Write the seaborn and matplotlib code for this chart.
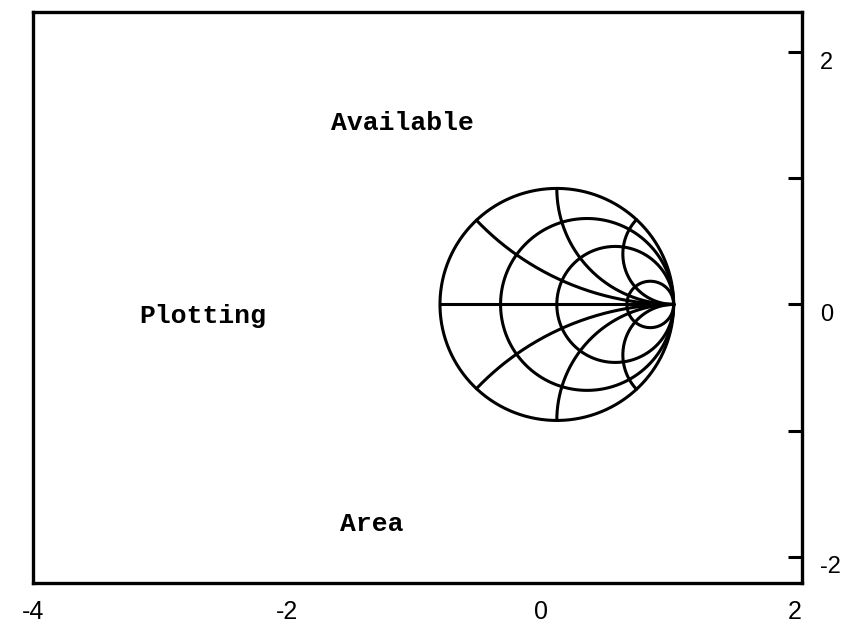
import numpy as np
import pandas as pd
import seaborn as sns
import matplotlib.pyplot as plt
import matplotlib.transforms as mtransforms

sns.set_style("white")

# smith chart values
r_vals = [0.0, 0.35, 1.0, 4.0]      # constant resistance circles
x_vals = [0.43, 1.0, 2.3]           # constant reactance arcs (+/-)
chart_center = 0.125
chart_radius = 0.92

x_ticks = [-3, -2, -1, 0, 1]
x_labels = [-4, -2, 0, 2]
y_ticks = [2, 1, 0, -1, -2]
y_labels = [2, 0, -2]

words = ["Available", "Plotting", "Area"]
word_x = [-1.09, -2.66, -1.33]
word_y = [1.44, -0.09, -1.74]


def to_plot(g):
    return chart_center + chart_radius * g.real, chart_radius * g.imag


rows = []
t = np.linspace(0, 2 * np.pi, 400)
for r in r_vals:
    g = r / (1 + r) + np.exp(1j * t) / (1 + r)
    px, py = to_plot(g)
    for a, b in zip(px, py):
        rows.append((f"r{r}", a, b))
rr = np.concatenate([[0], np.geomspace(1e-3, 1e4, 400)])
for xv in x_vals + [-v for v in x_vals] + [0.0]:
    z = rr + 1j * xv
    g = (z - 1) / (z + 1)
    px, py = to_plot(g)
    for a, b in zip(px, py):
        rows.append((f"x{xv}", a, b))
df = pd.DataFrame(rows, columns=["curve", "u", "v"])

fig, ax = plt.subplots(figsize=(8.45, 6.25), dpi=100)
fig.subplots_adjust(left=0.039, right=0.949, bottom=0.067, top=0.981)

sns.lineplot(data=df, x="u", y="v", units="curve", estimator=None, sort=False,
             color="black", linewidth=2.2, ax=ax, legend=False)

for w, a, b in zip(words, word_x, word_y):
    ax.text(a, b, w, ha="center", va="center", fontsize=19, color="black",
            family="Liberation Mono", fontweight="bold")

ax.set_xlim(-4, 2.055)
ax.set_ylim(-2.21, 2.32)
ax.set_xlabel("")
ax.set_ylabel("")

ax.xaxis.remove_overlapping_locs = False
ax.yaxis.remove_overlapping_locs = False
ax.yaxis.tick_right()
ax.set_xticks(x_labels)
ax.set_xticklabels([str(v) for v in x_labels])
ax.set_xticks(x_ticks, minor=True)
ax.set_yticks(y_labels)
ax.set_yticklabels([str(v) for v in y_labels])
ax.set_yticks(y_ticks, minor=True)
ax.tick_params(which="major", length=0, labelsize=18, labelcolor="black")
ax.tick_params(axis="x", which="major", pad=12)
ax.tick_params(axis="y", which="major", pad=13, labelsize=17)
ax.tick_params(which="minor", direction="in", length=10, width=2.2, color="black")
ax.tick_params(axis="y", which="both", right=True, left=False)

shift = mtransforms.ScaledTranslation(0, -8 / 100, fig.dpi_scale_trans)
for lab in ax.get_xticklabels() + ax.get_yticklabels():
    lab.set_family("Liberation Sans")
for lab in ax.get_yticklabels():
    lab.set_transform(lab.get_transform() + shift)

for s in ax.spines.values():
    s.set_color("black")
    s.set_linewidth(2.4)

fig.savefig("out.png", dpi=100)
